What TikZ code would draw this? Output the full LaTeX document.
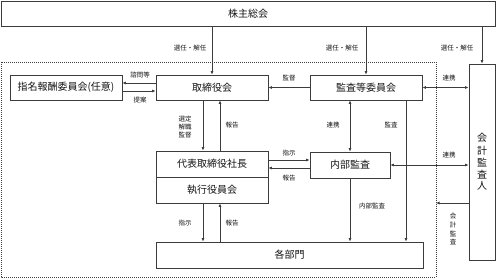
\documentclass[tikz,border=0pt]{standalone}
\usepackage{fontspec}
\setmainfont{Noto Sans CJK JP}
\usepackage{tikz}
\usetikzlibrary{arrows.meta}
\usepackage{xcolor}
\definecolor{linegray}{RGB}{60,60,60}
\definecolor{textblack}{RGB}{20,20,20}

\tikzset{
  box/.style={draw=linegray,line width=0.8pt,fill=white,text=textblack,
    inner sep=0pt,font=\fontsize{10}{12}\selectfont},
  lbl/.style={text=textblack,inner sep=0pt,font=\fontsize{6.5}{8}\selectfont},
  arr/.style={draw=linegray,line width=0.8pt,-{Latex[length=3.5pt,width=3pt]}},
  biarr/.style={draw=linegray,line width=0.8pt,{Latex[length=3.5pt,width=3pt]}-{Latex[length=3.5pt,width=3pt]}}
}

\begin{document}
\begin{tikzpicture}[x=1pt,y=-1pt]
  % --- canvas ---
  \useasboundingbox (0,0) rectangle (496,279);

  % --- company boundary (dotted) ---
  \draw[linegray,densely dotted,line width=1pt] (1,62) rectangle (436,277);

  % --- boxes ---
  \node[box,minimum width=494pt,minimum height=25pt] (kabu) at (248,13.5) {株主総会};
  \node[box,minimum width=112pt,minimum height=25pt] (shimei) at (66,87.5) {指名報酬委員会(任意)};
  \node[box,minimum width=112pt,minimum height=25pt] (torishimari) at (212,87.5) {取締役会};
  \node[box,minimum width=112pt,minimum height=25pt] (kansa) at (366,87.5) {監査等委員会};
  \node[box,minimum width=26pt,minimum height=196pt] (kaikei) at (482,162)
    {\shortstack{会\\計\\監\\査\\人}};
  \node[box,minimum width=112pt,minimum height=26pt] (daihyo) at (212,164) {代表取締役社長};
  \node[box,minimum width=112pt,minimum height=26pt] (shikko) at (212,190) {執行役員会};
  \node[box,minimum width=80pt,minimum height=26pt] (naibu) at (350,165) {内部監査};
  \node[box,minimum width=267pt,minimum height=26pt] (kakubu) at (289.5,255) {各部門};

  % --- shareholders' meeting ---
  \draw[arr] (kabu.south -| torishimari.north) -- (torishimari.north);
  \draw[arr] (kabu.south -| kansa.north) -- (kansa.north);
  \draw[arr] (kabu.south -| kaikei.north) -- (kaikei.north);
  \node[lbl] (senin1) at (190,48) {選任・解任};
  \node[lbl] (senin2) at (342,48) {選任・解任};
  \node[lbl] (senin3) at (457,48) {選任・解任};

  % --- board and nomination committee ---
  \draw[arr] ([yshift=4.5pt]torishimari.west) -- ([yshift=4.5pt]shimei.east);
  \draw[arr] ([yshift=-3.5pt]shimei.east) -- ([yshift=-3.5pt]torishimari.west);
  \node[lbl] (shimon) at (140,75) {諮問等};
  \node[lbl] (teian) at (140,100) {提案};

  % --- audit committee ---
  \draw[arr] (kansa.west) -- (torishimari.east);
  \node[lbl] (kantoku) at (289,78) {監督};
  \draw[biarr] (kansa.east) -- (kansa.east -| kaikei.west);
  \node[lbl] (renkei1) at (449,78) {連携};
  \draw[biarr] (kansa.south -| naibu.north) -- (naibu.north);
  \node[lbl] (renkei2) at (333,125) {連携};
  \coordinate (kansaout) at ([xshift=40pt]kansa.south);
  \draw[arr] (kansaout) -- (kansaout |- kakubu.north);
  \node[lbl] (kansalbl) at (391,125) {監査};

  % --- board and president ---
  \draw[arr] ([xshift=-9pt]torishimari.south) -- ([xshift=-9pt]daihyo.north);
  \draw[arr] ([xshift=8pt]daihyo.north) -- ([xshift=8pt]torishimari.south);
  \node[lbl,align=center] (sentei) at (185,127) {選定\\解職\\監督};
  \node[lbl] (houkoku1) at (232,125) {報告};

  % --- president and internal audit ---
  \draw[arr] ([yshift=4pt]daihyo.east) -- ([yshift=4pt]daihyo.east -| naibu.west);
  \draw[arr] ([yshift=-4pt]daihyo.east -| naibu.west) -- ([yshift=-4pt]daihyo.east);
  \node[lbl] (shiji1) at (289,153) {指示};
  \node[lbl] (houkoku2) at (289,178) {報告};
  \draw[arr] (naibu.south) -- (naibu.south |- kakubu.north);
  \node[lbl] (naibulbl) at (372,206) {内部監査};
  \draw[biarr] (naibu.east) -- (naibu.east -| kaikei.west);
  \node[lbl] (renkei3) at (449,155) {連携};

  % --- external auditor ---
  \coordinate (kaikeiout) at (436,203);
  \draw[arr] (kaikeiout -| kaikei.west) -- (kaikeiout);
  \node[lbl] (kaikeilbl) at (453,229) {\shortstack{会\\計\\監\\査}};

  % --- executive committee and divisions ---
  \draw[arr] ([xshift=-9pt]shikko.south) -- ([xshift=-9pt]kakubu.north -| shikko.south);
  \draw[arr] ([xshift=8pt]kakubu.north -| shikko.south) -- ([xshift=8pt]shikko.south);
  \node[lbl] (shiji2) at (185,223) {指示};
  \node[lbl] (houkoku3) at (232,223) {報告};

\end{tikzpicture}
\end{document}
